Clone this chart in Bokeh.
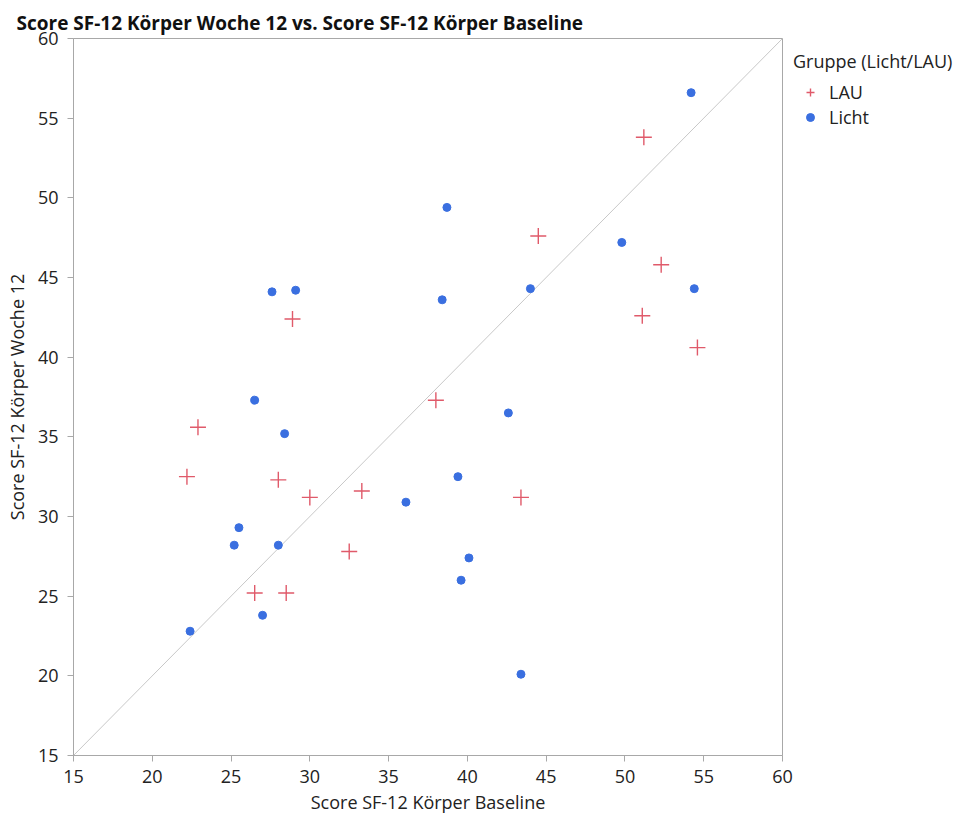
from bokeh.plotting import figure
from bokeh.models import ColumnDataSource, Legend, LegendItem, Range1d, FixedTicker
from bokeh.embed import file_html
from bokeh.resources import INLINE

# SF-12 physical score: baseline vs. week 12, by group
lau_baseline = [51.2, 44.5, 52.3, 51.1, 54.6, 28.9, 22.9, 22.2, 28.0, 30.0, 33.3, 38.0, 43.4, 32.5, 26.5, 28.5]
lau_week12   = [53.8, 47.6, 45.8, 42.6, 40.6, 42.4, 35.6, 32.5, 32.3, 31.2, 31.6, 37.3, 31.2, 27.8, 25.2, 25.2]

licht_baseline = [54.2, 38.7, 49.8, 38.4, 44.0, 54.4, 27.6, 29.1, 26.5, 28.4, 42.6, 39.4, 36.1,
                  25.5, 25.2, 28.0, 40.1, 39.6, 27.0, 22.4, 43.4]
licht_week12   = [56.6, 49.4, 47.2, 43.6, 44.3, 44.3, 44.1, 44.2, 37.3, 35.2, 36.5, 32.5, 30.9,
                  29.3, 28.2, 28.2, 27.4, 26.0, 23.8, 22.8, 20.1]

axis_ticks = [15, 20, 25, 30, 35, 40, 45, 50, 55, 60]
axis_min, axis_max = 15, 60

FONT = "Open Sans"
TEXT = "#222222"
AXIS = "#a8a8a8"

p = figure(frame_width=709, frame_height=717, output_backend="svg", toolbar_location=None,
           x_range=Range1d(axis_min, axis_max), y_range=Range1d(axis_min, axis_max),
           min_border_left=73, min_border_right=179, min_border_top=38, min_border_bottom=63)

p.title.text = "Score SF-12 Körper Woche 12 vs. Score SF-12 Körper Baseline"
p.title.text_font = FONT
p.title.text_font_size = "19px"
p.title.text_font_style = "bold"
p.title.text_color = "#111111"
p.title.offset = -57
p.title.standoff = 6

p.grid.visible = False
p.background_fill_color = "white"
p.border_fill_color = "white"
p.outline_line_color = AXIS
p.outline_line_width = 1

for ax in (p.xaxis[0], p.yaxis[0]):
    ax.ticker = FixedTicker(ticks=axis_ticks)
    ax.axis_line_color = AXIS
    ax.major_tick_line_color = AXIS
    ax.major_tick_out = 6
    ax.major_tick_in = 0
    ax.minor_tick_line_color = None
    ax.major_label_text_font = FONT
    ax.major_label_text_font_size = "18px"
    ax.major_label_text_color = TEXT
    ax.axis_label_text_font = FONT
    ax.axis_label_text_font_size = "18px"
    ax.axis_label_text_font_style = "normal"
    ax.axis_label_text_color = TEXT

p.xaxis.axis_label = "Score SF-12 Körper Baseline"
p.yaxis.axis_label = "Score SF-12 Körper Woche 12"
p.xaxis.major_label_standoff = 8
p.yaxis.major_label_standoff = 9
p.xaxis.axis_label_standoff = 4
p.yaxis.axis_label_standoff = 6

# identity line
p.line(x=[axis_min, axis_max], y=[axis_min, axis_max], line_color="#c8c8c8", line_width=1)

lau_src = ColumnDataSource(dict(x=lau_baseline, y=lau_week12))
licht_src = ColumnDataSource(dict(x=licht_baseline, y=licht_week12))

r_lau = p.scatter("x", "y", source=lau_src, marker="cross", size=16,
                  line_color="#e05a6a", line_width=1.4)
r_licht = p.scatter("x", "y", source=licht_src, marker="circle", size=8,
                    fill_color="#3a6fe0", line_color="#3a6fe0")

legend = Legend(items=[LegendItem(label="LAU", renderers=[r_lau]),
                       LegendItem(label="Licht", renderers=[r_licht])],
                title="Gruppe (Licht/LAU)", location="top_left",
                title_text_font=FONT, title_text_font_size="18px", title_text_color=TEXT,
                title_text_font_style="normal",
                label_text_font=FONT, label_text_font_size="18px", label_text_color=TEXT,
                border_line_color=None, background_fill_alpha=0,
                glyph_width=34, glyph_height=20, label_standoff=2,
                spacing=1, padding=0, margin=11, title_standoff=7)
p.add_layout(legend, "right")

open("out.html", "w").write(file_html(p, INLINE))
